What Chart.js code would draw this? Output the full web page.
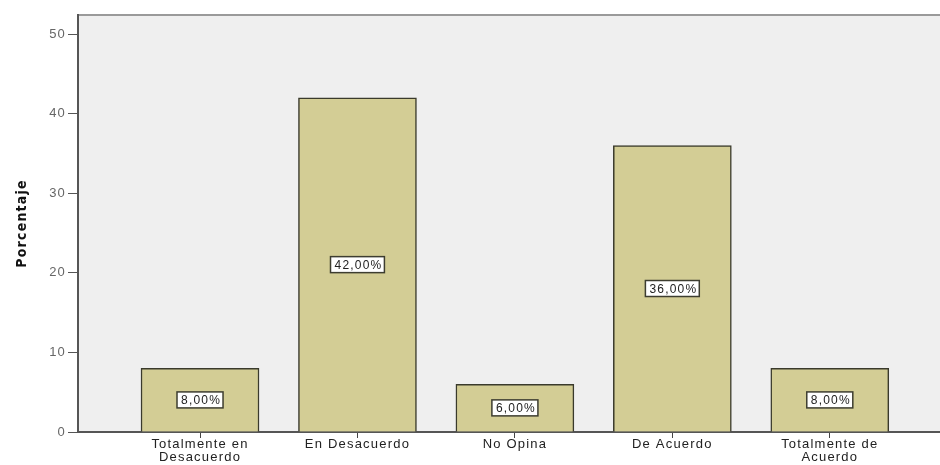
<!DOCTYPE html>
<html>
<head>
<meta charset="utf-8">
<script src="https://cdn.jsdelivr.net/npm/chart.js@4"></script>
<style>
  html, body { margin: 0; padding: 0; background: #fff; }
  #wrap { width: 940px; height: 465px; }
</style>
</head>
<body>
<div id="wrap"><canvas id="chart" width="940" height="465"></canvas></div>
<script>
const categories = ['Totalmente en Desacuerdo', 'En Desacuerdo', 'No Opina', 'De Acuerdo', 'Totalmente de Acuerdo'];
const tickLabels = [['Totalmente en', 'Desacuerdo'], 'En Desacuerdo', 'No Opina', 'De Acuerdo', ['Totalmente de', 'Acuerdo']];
const percentages = [8, 42, 6, 36, 8];
const yTicks = [0, 10, 20, 30, 40, 50];

// gray plot background + top rule, like SPSS output
const plotBackground = {
    id: 'plotBackground',
    beforeDraw(chart) {
        const { ctx, chartArea: a } = chart;
        ctx.save();
        ctx.fillStyle = '#efefef';
        ctx.fillRect(a.left, a.top, a.right - a.left, a.bottom - a.top);
        ctx.strokeStyle = '#9a9a9a';
        ctx.lineWidth = 2;
        ctx.beginPath();
        ctx.moveTo(a.left, a.top);
        ctx.lineTo(a.right, a.top);
        ctx.stroke();
        ctx.restore();
        // the SPSS export has rather wide-set lettering
        ctx.letterSpacing = '1.2px';
    }
};

// boxed percentage labels in the middle of each bar
const boxLabels = {
    id: 'boxLabels',
    afterDatasetsDraw(chart) {
        const { ctx } = chart;
        const meta = chart.getDatasetMeta(0);
        ctx.save();
        ctx.letterSpacing = '1.2px';
        ctx.font = '12px "Liberation Sans", Arial, sans-serif';
        ctx.textAlign = 'center';
        ctx.textBaseline = 'middle';
        meta.data.forEach((bar, i) => {
            const text = percentages[i].toFixed(2).replace('.', ',') + '%';
            const cy = (bar.y + bar.base) / 2;
            const w = ctx.measureText(text).width + 6;
            const h = 16;
            ctx.fillStyle = '#ffffff';
            ctx.fillRect(bar.x - w / 2, cy - h / 2, w, h);
            ctx.strokeStyle = '#3d3d30';
            ctx.lineWidth = 1.5;
            ctx.strokeRect(bar.x - w / 2, cy - h / 2, w, h);
            ctx.fillStyle = '#222';
            ctx.fillText(text, bar.x + 1, cy + 1);
        });
        ctx.restore();
    }
};

new Chart(document.getElementById('chart'), {
    type: 'bar',
    data: {
        datasets: [{
            label: 'Porcentaje',
            data: percentages.map((v, i) => ({ x: i, y: v })),
            backgroundColor: '#d3cd95',
            borderColor: '#3a3a2c',
            borderWidth: 1.5,
            barThickness: 118
        }]
    },
    options: {
        responsive: false,
        animation: false,
        layout: { padding: { top: 15, left: 0, right: 0, bottom: 0 } },
        plugins: {
            legend: { display: false },
            tooltip: { enabled: false }
        },
        scales: {
            x: {
                type: 'linear',
                offset: false,
                min: -0.775,
                max: 4.7,
                afterBuildTicks: (scale) => {
                    scale.ticks = categories.map((c, i) => ({ value: i }));
                },
                afterFit: (scale) => { scale.height = 33; },
                grid: {
                    offset: false,
                    drawOnChartArea: false,
                    drawTicks: true,
                    tickLength: 6,
                    color: '#444'
                },
                border: { display: true, color: '#555', width: 2 },
                ticks: {
                    autoSkip: false,
                    maxRotation: 0,
                    padding: 0,
                    color: '#222',
                    font: { family: '"Liberation Sans", Arial, sans-serif', size: 13, lineHeight: 1.0 },
                    callback: (v) => tickLabels[v]
                }
            },
            y: {
                min: 0,
                max: 52.4,
                afterBuildTicks: (scale) => {
                    scale.ticks = yTicks.map(v => ({ value: v }));
                },
                afterFit: (scale) => { scale.width = 78; },
                grid: {
                    drawOnChartArea: false,
                    drawTicks: true,
                    tickLength: 10,
                    color: '#555'
                },
                border: { display: true, color: '#555', width: 2 },
                ticks: {
                    padding: 2,
                    color: '#666',
                    font: { family: '"Liberation Sans", Arial, sans-serif', size: 13 }
                },
                title: {
                    display: true,
                    text: 'Porcentaje',
                    color: '#111',
                    padding: { top: 14, bottom: 12 },
                    font: { family: '"Liberation Sans Narrow", "Arial Narrow", "DejaVu Sans Condensed", sans-serif', size: 14, weight: 'bold' }
                }
            }
        }
    },
    plugins: [plotBackground, boxLabels]
});
</script>
</body>
</html>
